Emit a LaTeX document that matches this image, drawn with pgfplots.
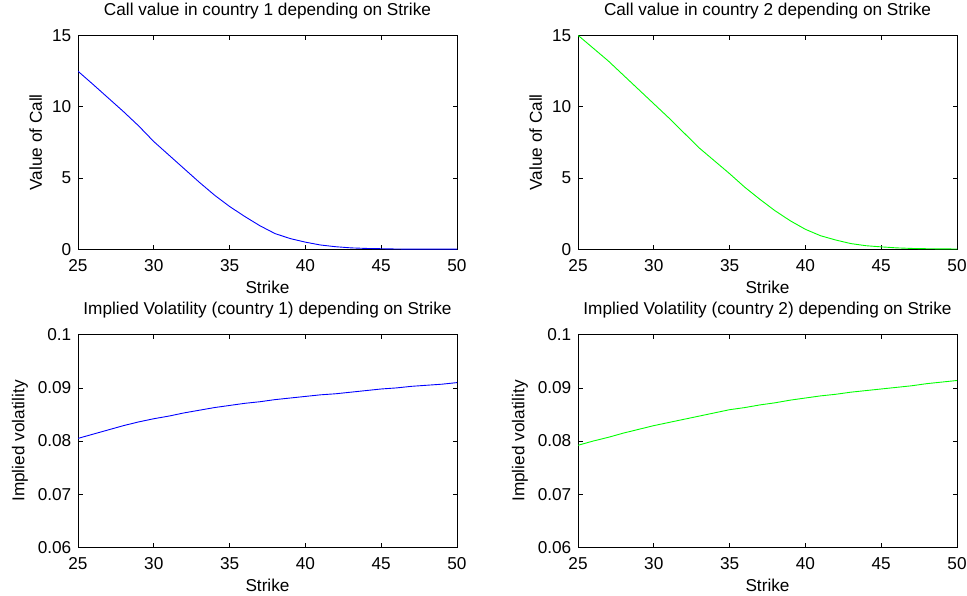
\documentclass[border=0pt]{standalone}
\usepackage{fontspec}
\setmainfont{Liberation Sans}
\usepackage{pgfplots}
\pgfplotsset{compat=1.18}
\pgfplotsset{
  mstyle/.style={
    scale only axis,
    width=379pt,
    xmin=25, xmax=50,
    xtick={25,30,35,40,45,50},
    tick pos=both,
    tick align=inside,
    major tick length=4.5pt,
    axis line style={black, line width=0.8pt},
    every tick/.style={black, line width=0.8pt},
    font=\fontsize{17.2}{20}\selectfont,
    /pgf/number format/assume math mode=true,
    xticklabel style={anchor=base, yshift=-22.4pt, inner sep=0pt},
    yticklabel style={anchor=east, inner sep=0pt, xshift=-6.5pt},
    title style={at={(axis description cs:0.5,1)}, anchor=base, yshift=14pt, inner sep=0pt},
    xlabel style={at={(axis description cs:0.5,0)}, anchor=base, yshift=-44.5pt, inner sep=0pt},
    xlabel={Strike},
  },
  callstyle/.style={mstyle, height=214pt, ymin=0, ymax=15, ytick={0,5,10,15},
    ylabel={Value of Call},
    ylabel style={at={(axis description cs:-0.095,0.5)}, anchor=base, inner sep=0pt}},
  volstyle/.style={mstyle, height=212.5pt, ymin=0.06, ymax=0.1, ytick={0.06,0.07,0.08,0.09,0.1},
    scaled y ticks=false,
    yticklabel style={/pgf/number format/fixed, /pgf/number format/precision=2},
    ylabel={Implied volatility},
    ylabel style={at={(axis description cs:-0.1415,0.5)}, anchor=base, inner sep=0pt}},
}
\begin{document}
\begin{tikzpicture}
\useasboundingbox (0pt,0pt) rectangle (967pt,596pt);
% Top left
\begin{axis}[callstyle, at={(78pt,346.7pt)}, anchor=south west,
  title={Call value in country 1 depending on Strike}]
\addplot[color={rgb,255:red,0;green,0;blue,255}, line width=0.9pt] table {
25 12.48
26 11.55
27 10.6
28 9.65
29 8.65
30 7.55
31 6.6
32 5.65
33 4.7
34 3.8
35 3.0
36 2.3
37 1.65
38 1.1
39 0.75
40 0.5
41 0.3
42 0.18
43 0.1
44 0.06
45 0.04
46 0.02
47 0.01
48 0.01
49 0.01
50 0.01
};
\end{axis}
% Top right
\begin{axis}[callstyle, at={(578pt,346.7pt)}, anchor=south west,
  title={Call value in country 2 depending on Strike}]
\addplot[color={rgb,255:red,0;green,255;blue,0}, line width=0.9pt] table {
25 15.0
26 14.1
27 13.2
28 12.2
29 11.2
30 10.2
31 9.2
32 8.15
33 7.1
34 6.2
35 5.3
36 4.35
37 3.5
38 2.7
39 2.0
40 1.4
41 0.95
42 0.65
43 0.4
44 0.25
45 0.17
46 0.1
47 0.06
48 0.04
49 0.03
50 0.02
};
\end{axis}
% Bottom left
\begin{axis}[volstyle, at={(78pt,48.7pt)}, anchor=south west,
  title={Implied Volatility (country 1) depending on Strike}]
\addplot[color={rgb,255:red,0;green,0;blue,255}, line width=0.9pt] table {
25 0.0805
26 0.0813
27 0.0821
28 0.0829
29 0.0836
30 0.0842
31 0.0847
32 0.0853
33 0.0858
34 0.0863
35 0.0867
36 0.0871
37 0.0874
38 0.0878
39 0.0881
40 0.0884
41 0.0887
42 0.0889
43 0.0892
44 0.0895
45 0.0898
46 0.0900
47 0.0903
48 0.0905
49 0.0907
50 0.0910
};
\end{axis}
% Bottom right
\begin{axis}[volstyle, at={(578pt,48.7pt)}, anchor=south west,
  title={Implied Volatility (country 2) depending on Strike}]
\addplot[color={rgb,255:red,0;green,255;blue,0}, line width=0.9pt] table {
25 0.0792
26 0.0800
27 0.0807
28 0.0815
29 0.0822
30 0.0829
31 0.0835
32 0.0841
33 0.0847
34 0.0853
35 0.0859
36 0.0863
37 0.0868
38 0.0872
39 0.0877
40 0.0881
41 0.0885
42 0.0888
43 0.0892
44 0.0895
45 0.0898
46 0.0901
47 0.0904
48 0.0908
49 0.0911
50 0.0914
};
\end{axis}
\end{tikzpicture}
\end{document}
